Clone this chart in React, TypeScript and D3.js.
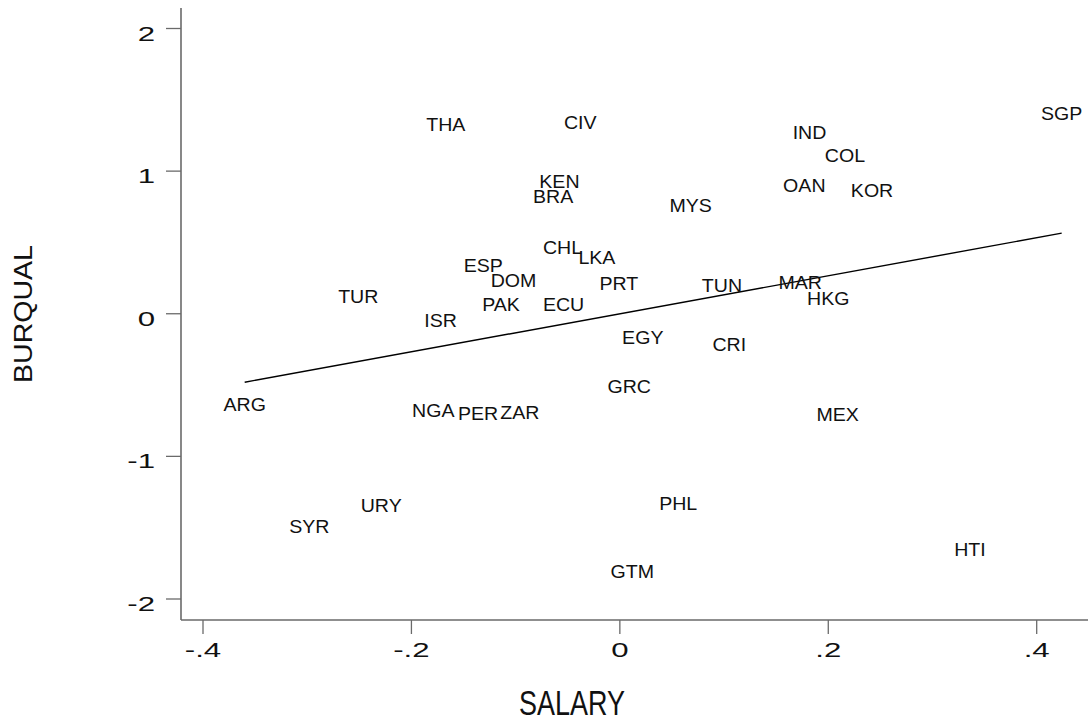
import React from 'react';
import * as d3 from 'd3';

// country codes and their (salary, burqual) values
const countries = ['THA', 'CIV', 'SGP', 'IND', 'COL', 'KEN', 'BRA', 'OAN', 'KOR', 'MYS', 'CHL', 'LKA', 'ESP', 'DOM', 'PRT', 'TUN', 'MAR', 'HKG', 'TUR', 'PAK', 'ECU', 'ISR', 'EGY', 'CRI', 'GRC', 'ARG', 'NGA', 'PER', 'ZAR', 'MEX', 'URY', 'PHL', 'GTM', 'SYR', 'HTI'];
const salary = [-0.167, -0.038, 0.424, 0.182, 0.216, -0.058, -0.064, 0.177, 0.242, 0.068, -0.055, -0.022, -0.131, -0.102, -0.001, 0.098, 0.173, 0.2, -0.251, -0.114, -0.054, -0.172, 0.022, 0.105, 0.009, -0.36, -0.179, -0.136, -0.096, 0.209, -0.229, 0.056, 0.012, -0.298, 0.336];
const burqual = [1.328, 1.342, 1.405, 1.272, 1.111, 0.929, 0.824, 0.901, 0.866, 0.761, 0.46, 0.39, 0.334, 0.235, 0.214, 0.2, 0.221, 0.109, 0.123, 0.06, 0.06, -0.052, -0.171, -0.22, -0.514, -0.641, -0.683, -0.704, -0.697, -0.711, -1.348, -1.33, -1.81, -1.495, -1.656];

// fitted line end points
const fitX = [-0.36, 0.424];
const fitY = [-0.48, 0.565];

const xTicks = [-0.4, -0.2, 0, 0.2, 0.4];
const xTickLabels = ['-.4', '-.2', '0', '.2', '.4'];
const yTicks = [2, 1, 0, -1, -2];
const yTickLabels = ['2', '1', '0', '-1', '-2'];

const W = 1088;
const H = 725;
const FONT = '"Liberation Sans", Arial, Helvetica, sans-serif';

export default function App() {
  const x = d3.scaleLinear().domain([-0.4, 0.4]).range([203, 1036.7]);
  const y = d3.scaleLinear().domain([-2, 2]).range([599, 28.5]);

  const axisLeft = 181;
  const axisBottom = 620;
  const axisColor = '#6a6a6a';

  const line = d3.line<number>()
    .x(d => x(fitX[d]))
    .y(d => y(fitY[d]));

  return (
    <svg width={W} height={H} style={{ position: 'absolute', left: 0, top: 0, background: '#fff' }} fontFamily={FONT}>
      <rect width={W} height={H} fill="#fff" />

      {/* axes */}
      <line x1={axisLeft} x2={axisLeft} y1={8} y2={axisBottom} stroke={axisColor} strokeWidth={1.6} />
      <line x1={axisLeft} x2={W} y1={axisBottom} y2={axisBottom} stroke={axisColor} strokeWidth={1.6} />

      {yTicks.map((t, i) => (
        <g key={'y' + t}>
          <line x1={166} x2={axisLeft} y1={y(t)} y2={y(t)} stroke={axisColor} strokeWidth={1.3} />
          <text
            transform={`translate(155,${y(t) + 12}) scale(1.6,1)`}
            textAnchor="end"
            fontSize={19.5}
            fill="#111"
          >{yTickLabels[i]}</text>
        </g>
      ))}

      {xTicks.map((t, i) => (
        <g key={'x' + t}>
          <line x1={x(t)} x2={x(t)} y1={axisBottom} y2={634} stroke={axisColor} strokeWidth={1.3} />
          <text
            transform={`translate(${x(t)},657) scale(1.6,1)`}
            textAnchor="middle"
            fontSize={19.5}
            fill="#111"
          >{xTickLabels[i]}</text>
        </g>
      ))}

      {/* axis titles */}
      <text x={572} y={715} textAnchor="middle" fontSize={35} textLength={106} lengthAdjust="spacingAndGlyphs" fill="#111">SALARY</text>
      <text transform="translate(32,314) rotate(-90)" textAnchor="middle" fontSize={26.5} textLength={138} lengthAdjust="spacingAndGlyphs" fill="#111">BURQUAL</text>

      {/* fit line */}
      <path d={line([0, 1]) || ''} fill="none" stroke="#000" strokeWidth={1.4} />

      {/* country labels */}
      {countries.map((c, i) => (
        <text
          key={c}
          transform={`translate(${x(salary[i])},${y(burqual[i]) + 6.3}) scale(1.12,1)`}
          textAnchor="middle"
          fontSize={17.5}
          fill="#111"
        >{c}</text>
      ))}
    </svg>
  );
}
